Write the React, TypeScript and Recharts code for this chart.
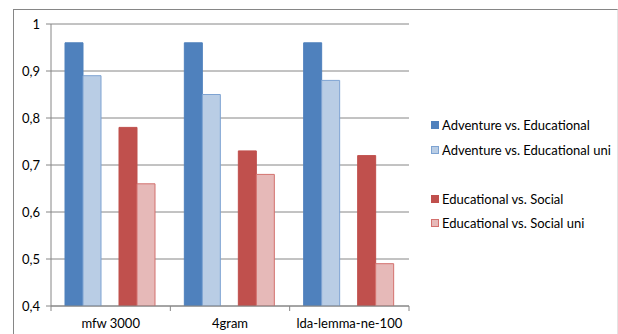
import { BarChart, Bar, XAxis, YAxis, CartesianGrid } from "recharts";

const categories = ["mfw 3000", "4gram", "lda-lemma-ne-100"];
const advEdu = [0.96, 0.96, 0.96];
const advEduUni = [0.89, 0.85, 0.88];
const eduSoc = [0.78, 0.73, 0.72];
const eduSocUni = [0.66, 0.68, 0.49];
const yTicks = [0.4, 0.5, 0.6, 0.7, 0.8, 0.9, 1];

// the null key holds the empty slot between the two pairs of bars
const series = [
  { key: "advEdu", name: "Adventure vs. Educational", fill: "#4F81BD", stroke: "#4F81BD" },
  { key: "advEduUni", name: "Adventure vs. Educational uni", fill: "#B9CDE5", stroke: "#7EA3D2" },
  { key: "blank", name: "", fill: "none", stroke: "none" },
  { key: "eduSoc", name: "Educational vs. Social", fill: "#C0504D", stroke: "#C0504D" },
  { key: "eduSocUni", name: "Educational vs. Social uni", fill: "#E6B9B8", stroke: "#D3716E" },
];

const data = categories.map((name, i) => ({
  name,
  advEdu: advEdu[i],
  advEduUni: advEduUni[i],
  blank: null,
  eduSoc: eduSoc[i],
  eduSocUni: eduSocUni[i],
}));

const FONT = "Lato, 'Open Sans', sans-serif";
const AXIS = "#868686";

const fmt = (v: number) => (v === 1 ? "1" : v.toFixed(1).replace(".", ","));

function CategoryTick(props: any) {
  const { x, y, payload, index } = props;
  const half = payload?.offset ?? 358 / 6;
  return (
    <g>
      <line x1={x - half} y1={y} x2={x - half} y2={y + 5} stroke={AXIS} />
      {index === categories.length - 1 && (
        <line x1={x + half} y1={y} x2={x + half} y2={y + 5} stroke={AXIS} />
      )}
      <text x={x} y={y + 22} textAnchor="middle" fontSize={13} fontFamily={FONT} fill="#000">
        {payload.value}
      </text>
    </g>
  );
}

function LegendBox() {
  return (
    <div style={{ position: "absolute", left: 431, top: 113, fontFamily: FONT, fontSize: 13, color: "#000" }}>
      {series.map((s) => (
        <div key={s.key} style={{ height: 24.5, display: "flex", alignItems: "center" }}>
          {s.name && (
            <>
              <span
                style={{
                  width: 6,
                  height: 6,
                  background: s.fill,
                  border: `1px solid ${s.stroke}`,
                  marginRight: 3,
                  display: "inline-block",
                }}
              />
              <span>{s.name}</span>
            </>
          )}
        </div>
      ))}
    </div>
  );
}

export default function App() {
  return (
    <div style={{ position: "absolute", left: 0, top: 0, width: 618, height: 334, background: "#fff", overflow: "hidden" }}>
      <div
        style={{
          position: "absolute",
          left: 13,
          top: 9,
          width: 603,
          height: 340,
          borderTop: `1px solid ${AXIS}`,
          borderLeft: `1px solid ${AXIS}`,
          borderRight: "1px solid #e4e4e4",
        }}
      />
      <div style={{ position: "absolute", left: 0, top: 0 }}>
        <BarChart
          width={618}
          height={334}
          data={data}
          margin={{ top: 24, right: 209, left: 0, bottom: 0 }}
          barCategoryGap={14}
          barGap={0}
        >
          <CartesianGrid vertical={false} stroke={AXIS} />
          <XAxis
            dataKey="name"
            height={28}
            stroke={AXIS}
            tickLine={false}
            tickSize={0}
            tickMargin={0}
            tick={<CategoryTick />}
            interval={0}
          />
          <YAxis
            width={51}
            domain={[0.4, 1]}
            ticks={yTicks}
            allowDataOverflow
            stroke={AXIS}
            tickSize={5}
            tickMargin={6}
            tickFormatter={fmt}
            tick={{ fill: "#000", fontSize: 13, fontFamily: FONT }}
          />
          {series.map((s) => (
            <Bar
              key={s.key}
              dataKey={s.key}
              fill={s.fill}
              stroke={s.stroke}
              isAnimationActive={false}
            />
          ))}
        </BarChart>
      </div>
      <LegendBox />
    </div>
  );
}
